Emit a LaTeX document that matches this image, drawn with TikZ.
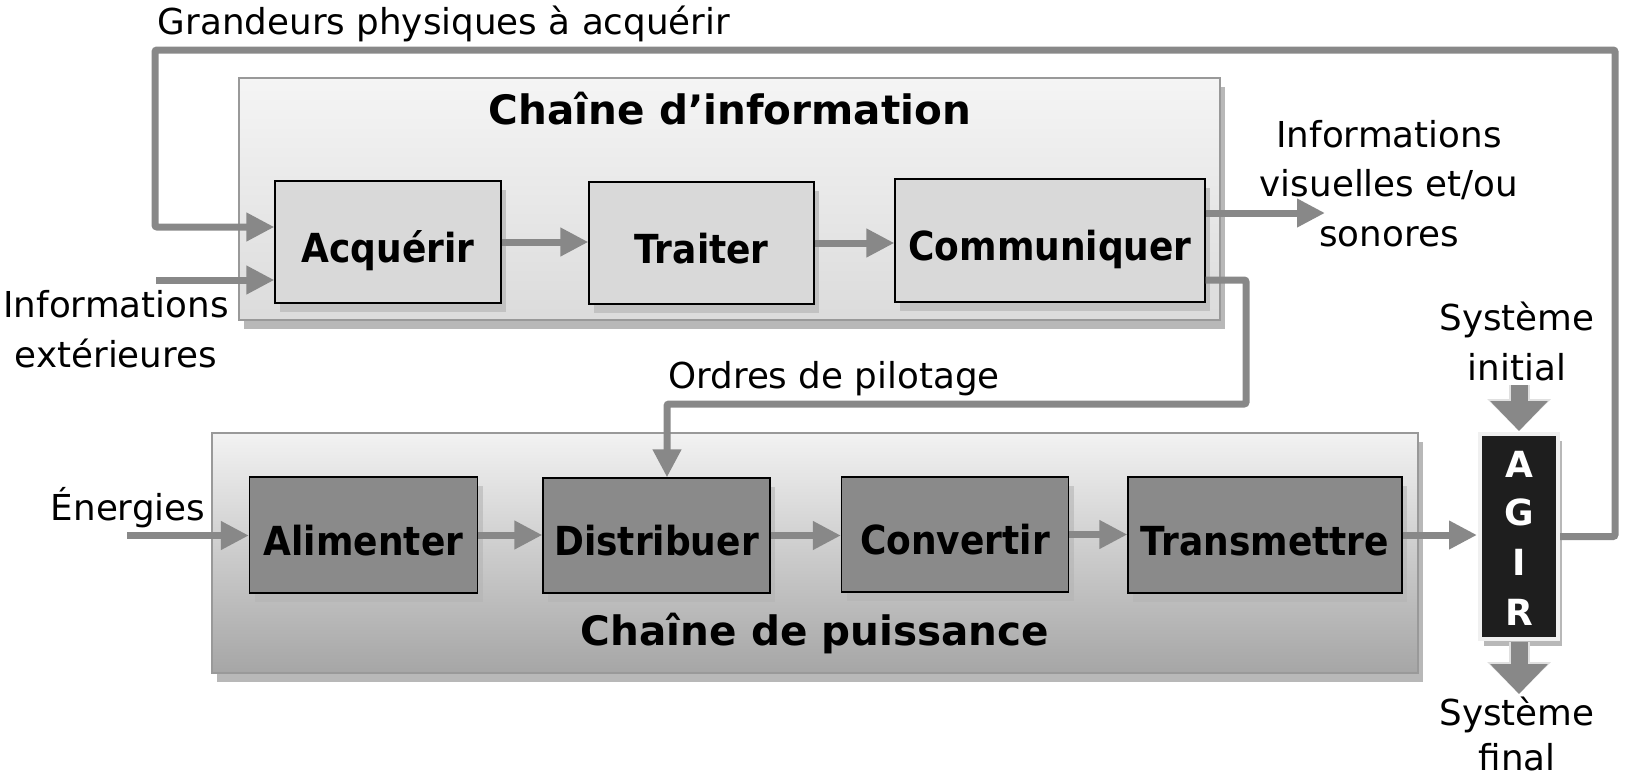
\documentclass[tikz,border=0pt]{standalone}
\usepackage{fontspec}
\setmainfont{DejaVu Sans}
\newfontfamily\boxfont{DejaVu Sans Bold}[FakeStretch=0.9]
\newfontfamily\titlefont{DejaVu Sans Bold}
\usetikzlibrary{arrows.meta,shadows}
\definecolor{conncol}{HTML}{888888}
\definecolor{chainborder}{HTML}{999999}
\definecolor{bigshadow}{HTML}{B8B8B8}
\definecolor{infofill}{HTML}{D9D9D9}
\definecolor{infoshadow}{HTML}{C2C2C2}
\definecolor{powerfill}{HTML}{8A8A8A}
\definecolor{powershadow}{HTML}{B4B4B4}
\definecolor{agirfill}{HTML}{1E1E1E}
\begin{document}
\begin{tikzpicture}[x=1pt,y=-1pt,
  chain/.style={rectangle, draw=chainborder, line width=1.3pt, inner sep=0pt,
    drop shadow={shadow xshift=5pt, shadow yshift=-9pt, fill=bigshadow, opacity=1}},
  infochain/.style={chain, top color=black!4, bottom color=black!14},
  powerchain/.style={chain, top color=black!5, middle color=black!14, bottom color=black!35},
  chaintitle/.style={font=\titlefont\fontsize{40.5}{40.5}\selectfont, inner sep=0pt, anchor=base},
  stepbase/.style={rectangle, draw=black, line width=1.2pt, inner sep=0pt,
    text height=40pt, text depth=0pt, font=\boxfont\fontsize{40}{40}\selectfont},
  infobox/.style={stepbase, fill=infofill,
    drop shadow={shadow xshift=5pt, shadow yshift=-9pt, fill=infoshadow, opacity=1}},
  powerbox/.style={stepbase, fill=powerfill,
    drop shadow={shadow xshift=5pt, shadow yshift=-9pt, fill=powershadow, opacity=0.6}},
  agirbox/.style={rectangle, fill=agirfill, draw=white!94!black, line width=4pt, inner sep=0pt,
    drop shadow={shadow xshift=4pt, shadow yshift=-7pt, fill=bigshadow, opacity=1}},
  agirletter/.style={font=\titlefont\fontsize{36}{36}\selectfont, text=white, inner sep=0pt, anchor=base},
  lab/.style={font=\fontsize{35.7}{49.5}\selectfont, align=center, inner sep=0pt, anchor=base},
  conn/.style={draw=conncol, line width=7pt, rounded corners=2pt, -{Triangle[length=28pt,width=27pt]}},
  bigarrow/.style={draw=conncol, line width=17pt, -{Triangle[length=30pt,width=56pt]},
    preaction={draw=black!12, line width=21pt, -{Triangle[length=32pt,width=62pt]}}}
]
\useasboundingbox (0,0) rectangle (1637,780);

% chains
\node[infochain, minimum width=981pt, minimum height=242pt] (info) at (729.5,199) {};
\node[chaintitle] (infotitle) at (730,124) {Chaîne d’information};
\node[powerchain, minimum width=1206pt, minimum height=240pt] (power) at (815,553) {};
\node[chaintitle] (powertitle) at (815,645) {Chaîne de puissance};

% information chain steps
\node[infobox, minimum width=226pt, minimum height=122pt] (acq) at (388,242) {Acquérir};
\node[infobox, minimum width=225pt, minimum height=122pt] (trait) at (701.5,243) {Traiter};
\node[infobox, minimum width=310pt, minimum height=123pt] (comm) at (1050,240.5) {Communiquer};

% power chain steps
\node[powerbox, minimum width=228pt, minimum height=116pt] (alim) at (363.5,535) {Alimenter};
\node[powerbox, minimum width=227pt, minimum height=115pt] (dist) at (656.5,535.5) {Distribuer};
\node[powerbox, minimum width=227pt, minimum height=115pt] (conv) at (955,534.5) {Convertir};
\node[powerbox, minimum width=274pt, minimum height=116pt] (trans) at (1265,535) {Transmettre};

% AGIR
\node[agirbox, minimum width=78pt, minimum height=205pt] (agir) at (1519,536.5) {};
\node[agirletter] (agirA) at (1519,477) {A};
\node[agirletter] (agirG) at (1519,525) {G};
\node[agirletter] (agirI) at (1519,575) {I};
\node[agirletter] (agirR) at (1519,625) {R};

% labels (anchor base = baseline of the last line)
\node[lab] (grand) at (444,34) {Grandeurs physiques à acquérir};
\node[lab] (infext) at (116,367) {Informations\\extérieures};
\node[lab] (infvis) at (1389,246) {Informations\\visuelles et/ou\\sonores};
\node[lab] (ordres) at (834,388) {Ordres de pilotage};
\node[lab] (energ) at (128,520) {Énergies};
\node[lab] (sysinit) at (1517,380) {Système\\initial};
\node[lab, font=\fontsize{35.7}{45}\selectfont] (sysfin) at (1517,770) {Système\\final};

% free ends
\coordinate (infin) at (156,280);
\coordinate (enin) at (127,535.5);
\coordinate (visout) at (1325,213);
\coordinate (initstart) at (1519,385);
\coordinate (finend) at (1519,694);

% information connectors
\draw[conn] (agir.east) -| (1615,50) -| (155,227) -- ([yshift=15pt]acq.west);
\draw[conn] (infin) -- ([yshift=-38pt]acq.west);
\draw[conn] (acq.east) -- (acq.east -| trait.west);
\draw[conn] (trait.east) -- (trait.east -| comm.west);
\draw[conn] ([yshift=27.5pt]comm.east) -- (visout);
\draw[conn] ([yshift=-39.5pt]comm.east) -| (1246,404) -| ([xshift=10.5pt]dist.north);

% power connectors
\draw[conn] (enin) -- (enin -| alim.west);
\draw[conn] (alim.east) -- (alim.east -| dist.west);
\draw[conn] (dist.east) -- (dist.east -| conv.west);
\draw[conn] (conv.east) -- (conv.east -| trans.west);
\draw[conn] (trans.east) -- ([xshift=-1pt]trans.east -| agir.west);

% system arrows
\draw[bigarrow] (initstart) -- ([yshift=1pt]agir.north);
\draw[bigarrow] ([yshift=-1pt]agir.south) -- (finend);
\end{tikzpicture}
\end{document}
